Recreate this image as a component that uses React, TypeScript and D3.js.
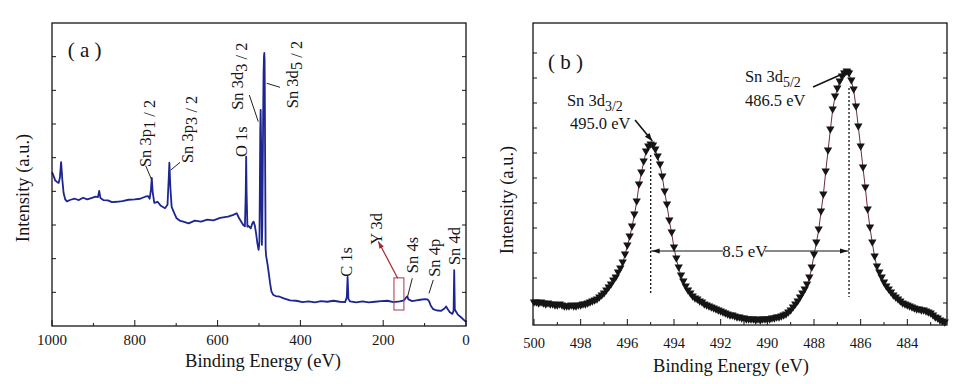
import React from "react";
import * as d3 from "d3";

// ---------- Panel (a): XPS survey spectrum ----------
const energyA = [
  1000, 996, 992, 988, 984, 981, 978, 975, 972, 968, 964, 955, 945, 935, 925, 915, 905, 895, 889, 886,
  883, 876, 865, 855, 844, 830, 815, 800, 787, 775, 768, 764, 761, 759, 757, 753, 745, 737, 727, 721,
  718, 716.5, 714, 711, 705, 699, 690, 683, 670, 655, 640, 625, 610, 594, 575, 562, 554, 548, 538, 534,
  532, 531, 530, 528, 526, 520, 516, 513, 510, 507, 504, 501, 499, 498, 497, 496, 495, 494, 493, 492,
  491, 490, 489, 488, 487.2, 486.5, 486, 485, 484, 483, 481, 479, 476, 473, 470, 466, 460, 450, 440, 425,
  410, 395, 380, 365, 350, 335, 320, 305, 292, 288, 286, 284, 280, 265, 250, 235, 220, 205, 190, 175,
  160, 150, 145, 142, 139, 130, 120, 110, 100, 93, 89, 85, 80, 75, 68, 60, 52, 48, 44, 39,
  33, 30, 28.5, 27, 24, 19, 12, 6, 0,
];
const intensityA = [
  45.7, 44.5, 43.2, 42.8, 42.5, 44.0, 48.7, 43.4, 39.5, 37.6, 37.0, 37.5, 37.8, 37.4, 38.1, 37.6, 38.0, 38.4, 38.3, 40.1,
  38.0, 37.4, 37.3, 36.8, 36.9, 37.1, 37.5, 37.6, 37.8, 38.4, 38.6, 37.8, 40.5, 44.0, 40.0, 36.6, 36.9, 35.7, 35.0, 36.0,
  44.0, 48.5, 41.0, 35.4, 33.6, 32.0, 31.2, 31.0, 30.5, 31.3, 31.0, 31.6, 31.4, 32.1, 32.5, 33.0, 33.5, 32.0, 30.0, 29.6,
  40.0, 50.3, 40.0, 29.5, 29.8, 29.0, 30.5, 31.0, 29.8, 27.5, 24.6, 22.6, 25.0, 40.0, 58.0, 64.2, 55.0, 35.0, 24.1, 30.0,
  45.0, 62.0, 75.0, 80.0, 81.1, 79.0, 70.0, 45.0, 23.0, 21.0, 19.5, 18.0, 15.3, 12.5, 10.3, 9.3, 8.9, 8.7, 8.2, 7.6,
  7.5, 7.1, 7.3, 7.0, 7.4, 7.2, 7.5, 7.2, 7.1, 8.5, 14.6, 8.0, 7.3, 7.0, 7.3, 7.0, 7.2, 7.4, 7.5, 7.1,
  7.3, 7.6, 8.4, 8.8, 7.9, 7.4, 7.6, 7.8, 8.0, 7.9, 7.3, 6.0, 5.1, 4.8, 4.6, 4.5, 5.2, 5.8, 5.0, 4.1,
  3.6, 4.5, 16.6, 5.0, 4.2, 3.3, 2.6, 1.9, 1.2,
];
const xTicksA = [1000, 800, 600, 400, 200, 0];
const xMinorTicksA = [900, 700, 500, 300, 100];
const yTicksA = [10, 20, 30, 40, 50, 60, 70, 80];

// ---------- Panel (b): Sn 3d high-resolution spectrum ----------
const energyB = [
  500.0, 499.9, 499.8, 499.7, 499.6, 499.5, 499.4, 499.3, 499.2, 499.1,
  499.0, 498.9, 498.8, 498.7, 498.6, 498.5, 498.4, 498.3, 498.2, 498.1,
  498.0, 497.9, 497.8, 497.7, 497.6, 497.5, 497.4, 497.3, 497.2, 497.1,
  497.0, 496.9, 496.8, 496.7, 496.6, 496.5, 496.4, 496.3, 496.2, 496.1,
  496.0, 495.9, 495.8, 495.7, 495.6, 495.5, 495.4, 495.3, 495.2, 495.1,
  495.0, 494.9, 494.8, 494.7, 494.6, 494.5, 494.4, 494.3, 494.2, 494.1,
  494.0, 493.9, 493.8, 493.7, 493.6, 493.5, 493.4, 493.3, 493.2, 493.1,
  493.0, 492.9, 492.8, 492.7, 492.6, 492.5, 492.4, 492.3, 492.2, 492.1,
  492.0, 491.9, 491.8, 491.7, 491.6, 491.5, 491.4, 491.3, 491.2, 491.1,
  491.0, 490.9, 490.8, 490.7, 490.6, 490.5, 490.4, 490.3, 490.2, 490.1,
  490.0, 489.9, 489.8, 489.7, 489.6, 489.5, 489.4, 489.3, 489.2, 489.1,
  489.0, 488.9, 488.8, 488.7, 488.6, 488.5, 488.4, 488.3, 488.2, 488.1,
  488.0, 487.9, 487.8, 487.7, 487.6, 487.5, 487.4, 487.3, 487.2, 487.1,
  487.0, 486.9, 486.8, 486.7, 486.6, 486.5, 486.4, 486.3, 486.2, 486.1,
  486.0, 485.9, 485.8, 485.7, 485.6, 485.5, 485.4, 485.3, 485.2, 485.1,
  485.0, 484.9, 484.8, 484.7, 484.6, 484.5, 484.4, 484.3, 484.2, 484.1,
  484.0, 483.9, 483.8, 483.7, 483.6, 483.5, 483.4, 483.3, 483.2, 483.1,
  483.0, 482.9, 482.8, 482.7, 482.6, 482.5, 482.4,
];
const intensityB = [
  22, 22, 21, 22, 21, 20, 21, 20, 20, 19,
  19, 20, 19, 18, 18, 18, 19, 18, 18, 19,
  19, 20, 20, 21, 22, 23, 24, 25, 27, 29,
  31, 34, 37, 40, 44, 47, 52, 56, 62, 70,
  79, 88, 98, 110, 123, 140, 152, 163, 173, 178,
  180, 179, 175, 168, 160, 148, 133, 120, 104, 92,
  77, 66, 57, 49, 43, 38, 34, 31, 28, 26,
  25, 23, 22, 20, 19, 18, 17, 16, 15, 14,
  13, 12, 11, 10, 9, 9, 8, 7, 7, 6,
  6, 5, 5, 5, 5, 4, 5, 4, 5, 5,
  5, 5, 6, 6, 7, 7, 8, 9, 10, 12,
  14, 17, 20, 23, 27, 31, 35, 40, 47, 57,
  70, 82, 95, 113, 130, 153, 174, 195, 215, 228,
  236, 243, 248, 251, 253, 251, 244, 235, 218, 198,
  178, 157, 137, 115, 97, 82, 68, 58, 52, 47,
  42, 38, 35, 32, 29, 27, 25, 23, 21, 20,
  19, 18, 17, 16, 15, 15, 14, 14, 13, 12,
  11, 9, 7, 6, 4, 3, 2,
];
const xTicksB = [500, 498, 496, 494, 492, 490, 488, 486, 484];
const xMinorTicksB = [499, 497, 495, 493, 491, 489, 487, 485, 483];
const yTicksB = [22, 47, 72, 97, 122, 147, 172, 197, 222, 247, 272];
const peakEnergiesB = [495.0, 486.5];

const SERIF = "'Liberation Serif', 'Times New Roman', Times, serif";
const INK = "#151515";

function arrowHead(x1: number, y1: number, x2: number, y2: number, len = 8, half = 3) {
  const a = Math.atan2(y2 - y1, x2 - x1);
  const bx = x2 - len * Math.cos(a);
  const by = y2 - len * Math.sin(a);
  const px = -Math.sin(a) * half;
  const py = Math.cos(a) * half;
  return `${x2},${y2} ${bx + px},${by + py} ${bx - px},${by - py}`;
}

function VLabel({ x, y, main, sub, fs = 16.5, color = INK }: any) {
  return (
    <text
      transform={`translate(${x},${y}) rotate(-90)`}
      fontFamily={SERIF}
      fontSize={fs}
      fill={color}
      dy="0.33em"
    >
      {main}
      {sub ? <tspan dy={4}>{sub}</tspan> : null}
    </text>
  );
}

function PanelA() {
  const L = 52, R = 466, T = 23, B = 326;
  const x = d3.scaleLinear().domain([1000, 0]).range([L, R]);
  const y = d3.scaleLinear().domain([0, 90]).range([B, T]);
  const line = d3
    .line<number>()
    .x((_, i) => x(energyA[i]))
    .y((d) => y(d));
  const labels = [
    { main: "Sn 3p", sub: "1 / 2", e: 775, i: 47.2 },
    { main: "Sn 3p", sub: "3 / 2", e: 671.5, i: 48.4 },
    { main: "O 1s", e: 541, i: 50.2 },
    { main: "Sn 3d", sub: "3 / 2", e: 551.5, i: 64.2 },
    { main: "Sn 3d", sub: "5 / 2", e: 418.5, i: 64.7 },
    { main: "C 1s", e: 287.4, i: 14.6 },
    { main: "Y 3d", e: 215, i: 24.1 },
    { main: "Sn 4s", e: 128, i: 15.7 },
    { main: "Sn 4p", e: 74.9, i: 14.6 },
    { main: "Sn 4d", e: 27.5, i: 18.1 },
  ];
  const leaders = [
    [773.7, 47.6, 759.2, 43.4],
    [690.8, 48.6, 713.3, 46.3],
    [523.4, 68.6, 501.7, 60.7],
    [449.3, 70.9, 481.4, 72.1],
    [141.8, 8.4, 129.7, 14.2],
    [89.4, 9.7, 79, 13.7],
  ];
  const ra = [x(165), y(14.2), x(211.8), y(25.1)];
  return (
    <g>
      <path d={line(intensityA) || ""} fill="none" stroke="#1d2590" strokeWidth={1.8} strokeLinejoin="round" />
      <rect x={L} y={T} width={R - L} height={B - T} fill="none" stroke={INK} strokeWidth={1.3} />
      {xTicksA.map((t) => (
        <g key={t}>
          <line x1={x(t)} x2={x(t)} y1={B} y2={B - 6} stroke={INK} />
          <text x={x(t)} y={B + 19} textAnchor="middle" fontFamily={SERIF} fontSize={15} fill={INK}>
            {t}
          </text>
        </g>
      ))}
      {xMinorTicksA.map((t) => (
        <line key={t} x1={x(t)} x2={x(t)} y1={B} y2={B - 3} stroke={INK} />
      ))}
      {yTicksA.map((t) => (
        <g key={t}>
          <line x1={L} x2={L + 4} y1={y(t)} y2={y(t)} stroke={INK} />
          <line x1={R} x2={R - 4} y1={y(t)} y2={y(t)} stroke={INK} />
        </g>
      ))}
      <text x={(L + R) / 2 + 4} y={367} textAnchor="middle" fontFamily={SERIF} fontSize={18.5} fill={INK}>
        Binding Energy (eV)
      </text>
      <text
        transform={`translate(${23},${188}) rotate(-90)`}
        textAnchor="middle"
        dy="0.33em"
        fontFamily={SERIF}
        fontSize={18.5}
        fill={INK}
      >
        Intensity (a.u.)
      </text>
      <text x={x(962)} y={57} fontFamily={SERIF} fontSize={21} fill={INK}>
        ( a )
      </text>
      {labels.map((l, k) => (
        <VLabel key={k} x={x(l.e)} y={y(l.i)} main={l.main} sub={l.sub} />
      ))}
      {leaders.map((d, k) => (
        <line key={k} x1={x(d[0])} y1={y(d[1])} x2={x(d[2])} y2={y(d[3])} stroke="#222" strokeWidth={1} />
      ))}
      <rect
        x={x(174)}
        y={y(14.3)}
        width={x(150) - x(174)}
        height={y(4.75) - y(14.3)}
        fill="none"
        stroke="#b04a5a"
        strokeWidth={1.1}
      />
      <line x1={ra[0]} y1={ra[1]} x2={ra[2]} y2={ra[3]} stroke="#a02830" strokeWidth={1.2} />
      <polygon points={arrowHead(ra[0], ra[1], ra[2], ra[3], 7, 2.5)} fill="#a02830" />
    </g>
  );
}

function PanelB() {
  const L = 533, R = 947, T = 23, B = 325;
  const x = d3.scaleLinear().domain([500, 482.3]).range([534, R]);
  const y = d3.scaleLinear().domain([0, 302]).range([B, T]);
  const line = d3
    .line<number>()
    .x((_, i) => x(energyB[i]))
    .y((d) => y(d));
  const tri = d3.symbol(d3.symbolTriangle, 30)() || "";
  const a1 = [x(495.67), y(205), x(494.93), y(184)];
  const a2 = [x(488.04), y(238), x(486.4), y(255)];
  const yArrow = y(74);
  return (
    <g>
      <path d={line(intensityB) || ""} fill="none" stroke="#6e2c3c" strokeWidth={1} />
      {intensityB.map((v, i) => (
        <path
          key={i}
          d={tri}
          transform={`translate(${x(energyB[i])},${y(v) - 1}) rotate(180)`}
          fill={INK}
        />
      ))}
      <rect x={L} y={T} width={R - L} height={B - T} fill="none" stroke={INK} strokeWidth={1.3} />
      {xTicksB.map((t) => (
        <g key={t}>
          <line x1={x(t)} x2={x(t)} y1={B} y2={B - 6} stroke={INK} />
          <text x={x(t)} y={B + 23} textAnchor="middle" fontFamily={SERIF} fontSize={14.5} fill={INK}>
            {t}
          </text>
        </g>
      ))}
      {xMinorTicksB.map((t) => (
        <line key={t} x1={x(t)} x2={x(t)} y1={B} y2={B - 3} stroke={INK} />
      ))}
      {yTicksB.map((t) => (
        <g key={t}>
          <line x1={L} x2={L + 4} y1={y(t)} y2={y(t)} stroke={INK} />
          <line x1={R} x2={R - 4} y1={y(t)} y2={y(t)} stroke={INK} />
        </g>
      ))}
      <text x={731} y={372} textAnchor="middle" fontFamily={SERIF} fontSize={18.5} fill={INK}>
        Binding Energy (eV)
      </text>
      <text
        transform={`translate(${507},${200}) rotate(-90)`}
        textAnchor="middle"
        dy="0.33em"
        fontFamily={SERIF}
        fontSize={18.5}
        fill={INK}
      >
        Intensity (a.u.)
      </text>
      <text x={x(499.4)} y={69} fontFamily={SERIF} fontSize={21} fill={INK}>
        ( b )
      </text>
      <text x={x(498.59)} y={y(219)} fontFamily={SERIF} fontSize={16.5} fill={INK}>
        Sn 3d<tspan dy={5} fontSize={14}>3/2</tspan>
      </text>
      <text x={x(498.46)} y={y(196)} fontFamily={SERIF} fontSize={16.5} fill={INK}>
        495.0 eV
      </text>
      <text x={x(490.96)} y={y(243)} fontFamily={SERIF} fontSize={16.5} fill={INK}>
        Sn 3d<tspan dy={5} fontSize={14}>5/2</tspan>
      </text>
      <text x={x(490.96)} y={y(219)} fontFamily={SERIF} fontSize={16.5} fill={INK}>
        486.5 eV
      </text>
      <line x1={a1[0]} y1={a1[1]} x2={a1[2]} y2={a1[3]} stroke={INK} strokeWidth={1.6} />
      <polygon points={arrowHead(a1[0], a1[1], a1[2], a1[3], 8, 3)} fill={INK} />
      <line x1={a2[0]} y1={a2[1]} x2={a2[2]} y2={a2[3]} stroke={INK} strokeWidth={1.6} />
      <polygon points={arrowHead(a2[0], a2[1], a2[2], a2[3], 10, 3.5)} fill={INK} />
      <line x1={x(peakEnergiesB[0])} x2={x(peakEnergiesB[0])} y1={y(170)} y2={y(32)} stroke={INK} strokeWidth={1.3} strokeDasharray="2,2" />
      <line x1={x(peakEnergiesB[1])} x2={x(peakEnergiesB[1])} y1={y(237)} y2={y(28)} stroke={INK} strokeWidth={1.3} strokeDasharray="2,2" />
      <line x1={x(peakEnergiesB[0])} x2={x(491.9)} y1={yArrow} y2={yArrow} stroke={INK} strokeWidth={1.2} />
      <polygon points={arrowHead(x(494), yArrow, x(peakEnergiesB[0]) + 1, yArrow, 8, 2.5)} fill={INK} />
      <line x1={x(490.1)} x2={x(peakEnergiesB[1])} y1={yArrow} y2={yArrow} stroke={INK} strokeWidth={1.2} />
      <polygon points={arrowHead(x(488), yArrow, x(peakEnergiesB[1]) - 1, yArrow, 8, 2.5)} fill={INK} />
      <text x={x(490.96)} y={yArrow} dy="0.33em" textAnchor="middle" fontFamily={SERIF} fontSize={17} fill={INK}>
        8.5 eV
      </text>
    </g>
  );
}

export default function App() {
  return (
    <svg
      width={970}
      height={384}
      viewBox="0 0 970 384"
      style={{ position: "absolute", left: 0, top: 0, background: "#fff" }}
    >
      <rect x={0} y={0} width={970} height={384} fill="#fff" />
      <PanelA />
      <PanelB />
    </svg>
  );
}
